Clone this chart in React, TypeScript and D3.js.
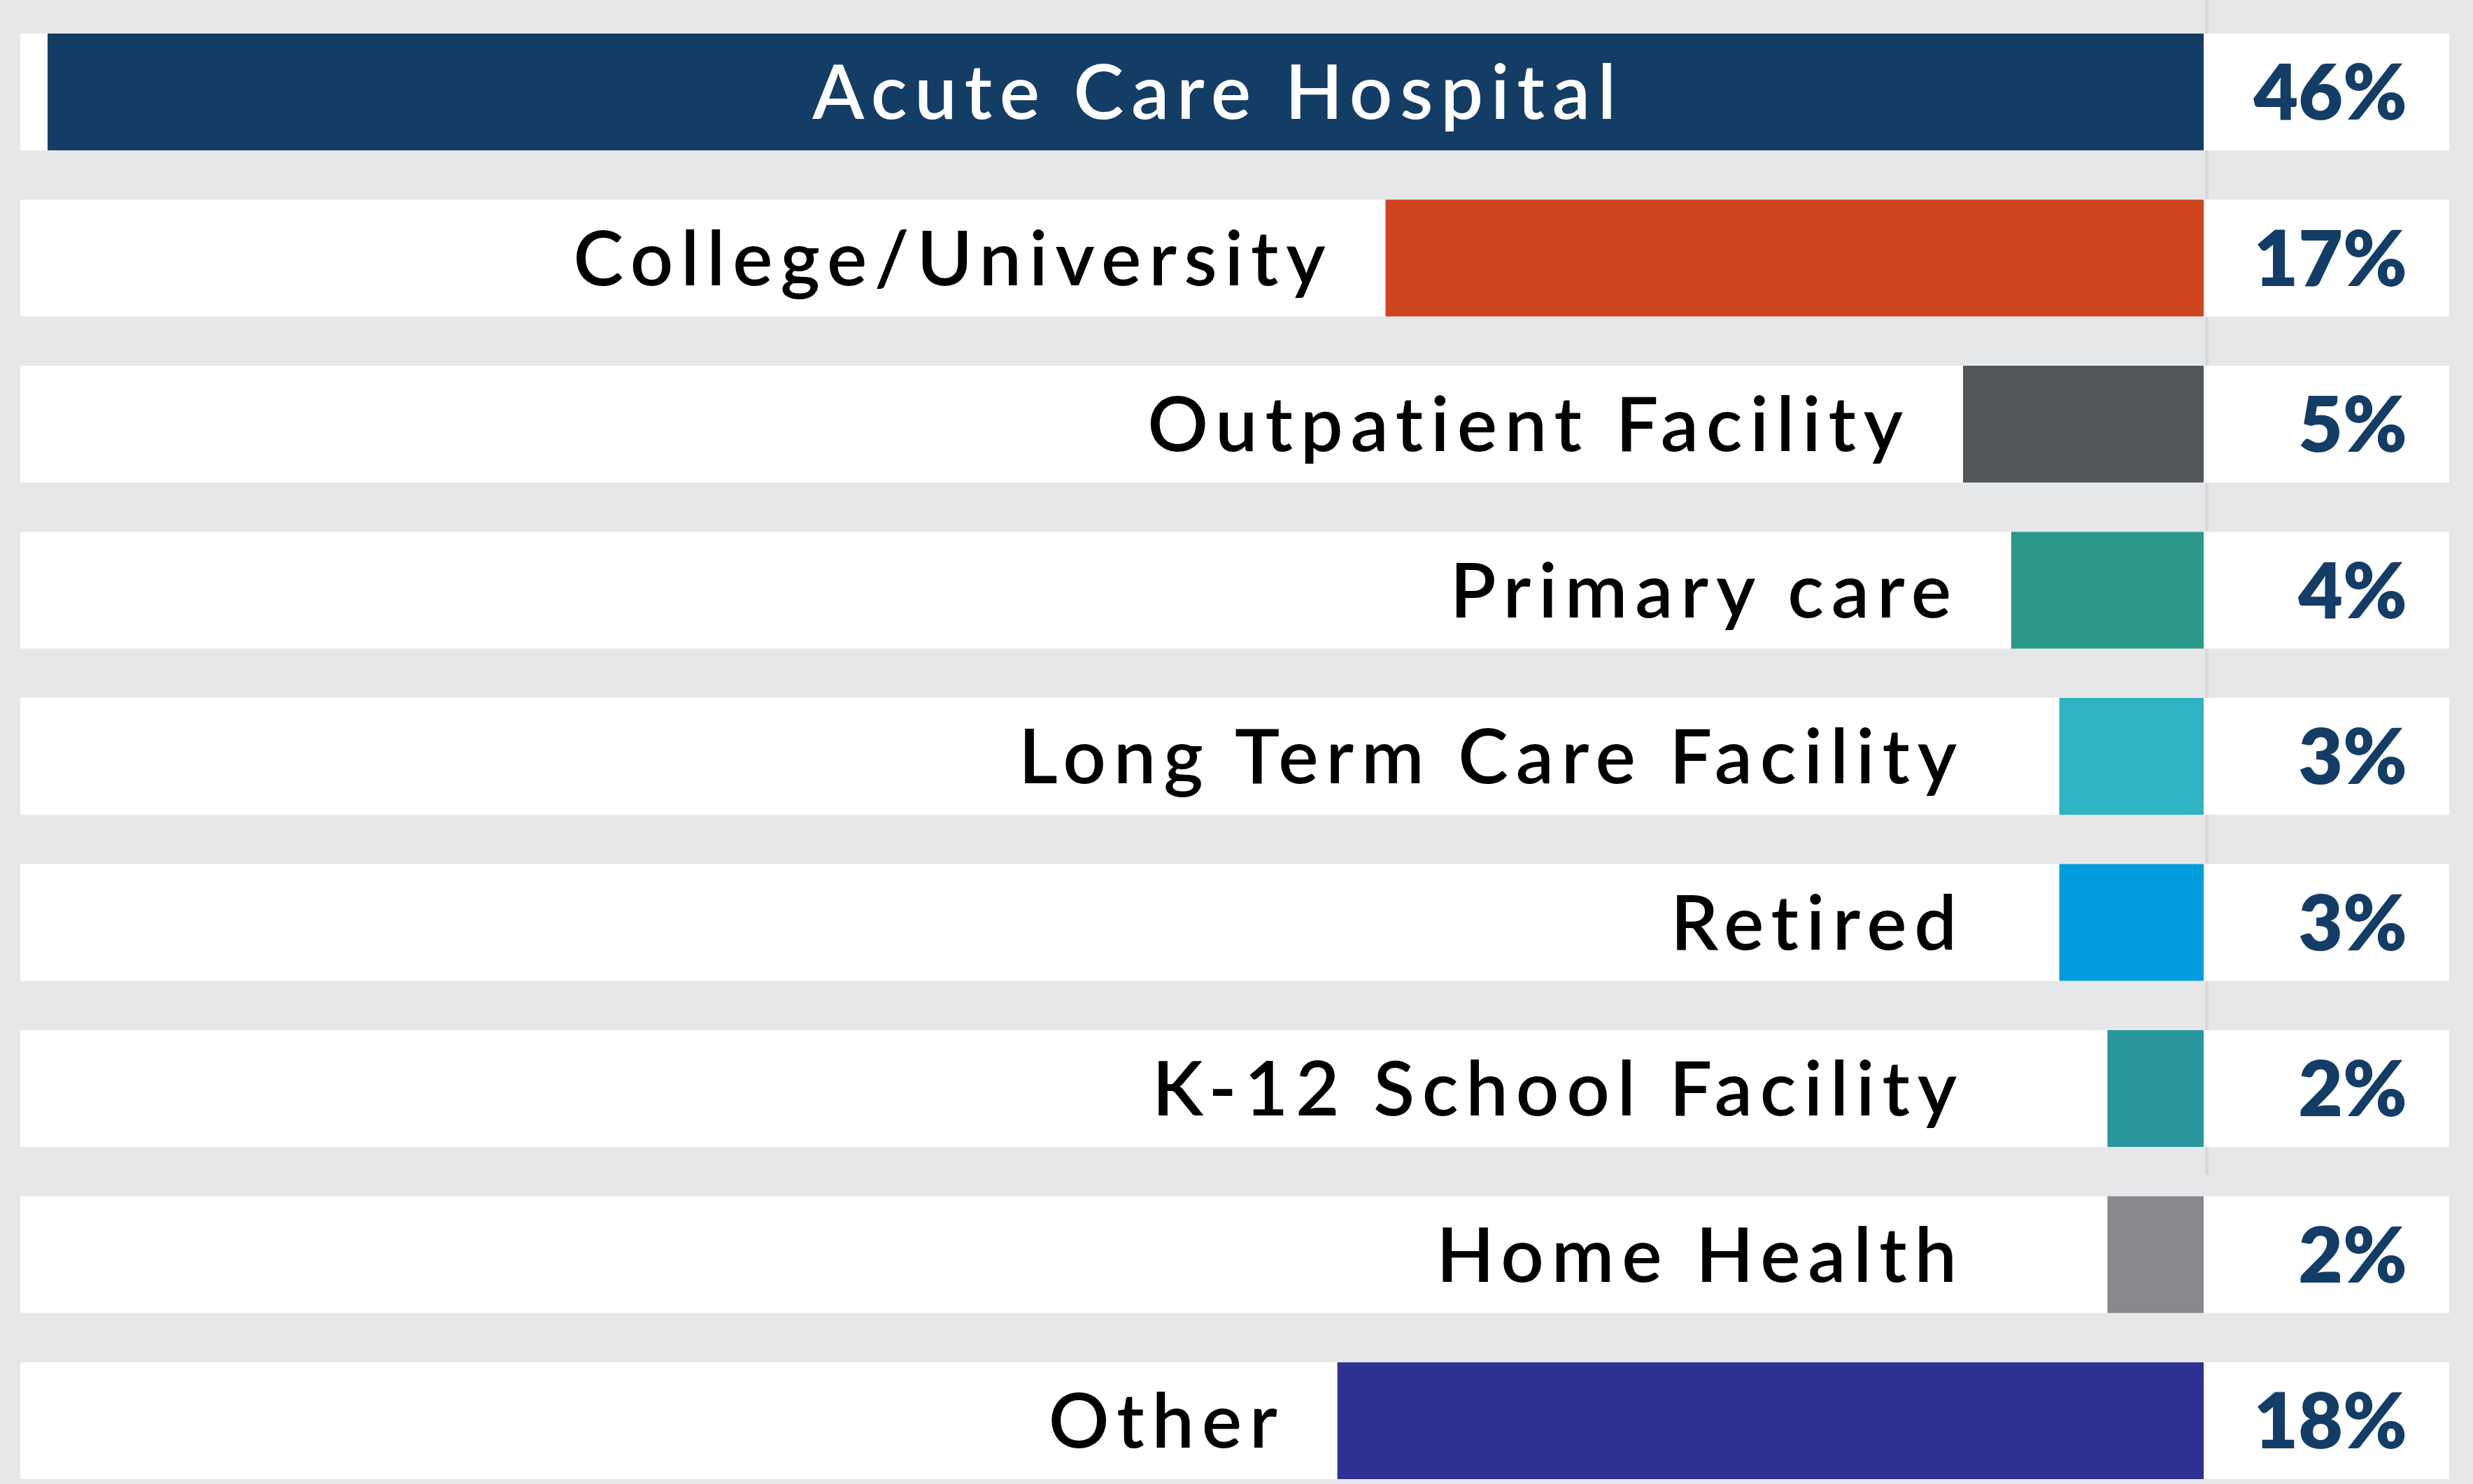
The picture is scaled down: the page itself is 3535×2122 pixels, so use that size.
import React from "react";
import * as d3 from "d3";

const categories = [
  "Acute Care Hospital",
  "College/University",
  "Outpatient Facility",
  "Primary care",
  "Long Term Care Facility",
  "Retired",
  "K-12 School Facility",
  "Home Health",
  "Other",
];
const values = [46, 17, 5, 4, 3, 3, 2, 2, 18];
const valueLabels = ["46%", "17%", "5%", "4%", "3%", "3%", "2%", "2%", "18%"];
const colors = [
  "#143d66",
  "#cf4520",
  "#53565a",
  "#2c9988",
  "#2db3c1",
  "#009cde",
  "#2a979f",
  "#88898c",
  "#2e3192",
];

const W = 3535;
const H = 2122;
const BAND_LEFT = 29;
const BAND_RIGHT = 3501;
const BAR_END = 3150;
const BAR_START_MAX = 68;
const PCT_RIGHT = 3441;
const LABEL_GAP = 75;
const LABEL_MAX_X = 2808;
const FONT = "Lato, 'Noto Sans', sans-serif";

export default function App() {
  const y = d3
    .scaleBand<string>()
    .domain(categories)
    .range([48, 2115])
    .paddingInner(0.297)
    .paddingOuter(0);

  const x = d3
    .scaleLinear()
    .domain([0, 44.8])
    .range([BAR_END, BAR_START_MAX])
    .clamp(true);

  const bw = y.bandwidth();

  return (
    <svg
      width={W}
      height={H}
      viewBox={`0 0 ${W} ${H}`}
      style={{ position: "absolute", left: 0, top: 0, display: "block" }}
    >
      <rect x={0} y={0} width={W} height={H} fill="#e6e7e8" />
      <rect x={BAR_END + 2} y={0} width={5} height={1680} fill="#d8d9db" />
      {categories.map((c, i) => {
        const y0 = y(c)!;
        const xs = x(values[i]);
        const inside = BAR_END - xs > (BAR_END - BAND_LEFT) / 2;
        const cy = y0 + bw / 2;
        return (
          <g key={c}>
            <rect x={BAND_LEFT} y={y0} width={BAND_RIGHT - BAND_LEFT} height={bw} fill="#ffffff" />
            <rect x={xs} y={y0} width={BAR_END - xs} height={bw} fill={colors[i]} />
            <text
              x={inside ? (BAND_LEFT + PCT_RIGHT) / 2 + 6 : Math.min(xs - LABEL_GAP, LABEL_MAX_X)}
              y={cy}
              dy="0.36em"
              textAnchor={inside ? "middle" : "end"}
              fill={inside ? "#ffffff" : "#000000"}
              fontFamily={FONT}
              fontWeight={600}
              fontSize={108}
              letterSpacing="0.1em"
            >
              {c}
            </text>
            <text
              x={PCT_RIGHT}
              y={cy}
              dy="0.36em"
              textAnchor="end"
              fill="#133d66"
              fontFamily={FONT}
              fontWeight={800}
              fontSize={110}
            >
              {valueLabels[i]}
            </text>
          </g>
        );
      })}
    </svg>
  );
}
